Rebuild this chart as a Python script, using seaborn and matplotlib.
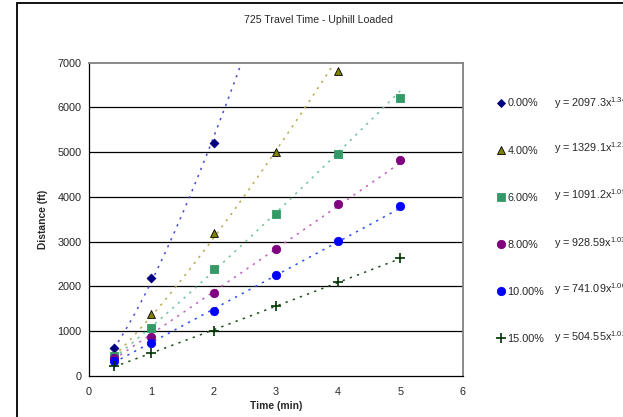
import numpy as np
import pandas as pd
import matplotlib
matplotlib.use("Agg")
import matplotlib.pyplot as plt
from matplotlib.lines import Line2D
from matplotlib.patches import Rectangle
import seaborn as sns

# Measured travel distances for each grade
series_names = ["0.00%", "4.00%", "6.00%", "8.00%", "10.00%", "15.00%"]
time_0 = [0.4, 1, 2]
dist_0 = [620, 2190, 5210]
time_4 = [0.4, 1, 2, 3, 4]
dist_4 = [460, 1390, 3200, 5010, 6820]
time_6 = [0.4, 1, 2, 3, 4, 5]
dist_6 = [430, 1075, 2395, 3625, 4965, 6220]
time_8 = [0.4, 1, 2, 3, 4, 5]
dist_8 = [395, 870, 1855, 2840, 3850, 4830]
time_10 = [0.4, 1, 2, 3, 4, 5]
dist_10 = [320, 740, 1455, 2260, 3020, 3800]
time_15 = [0.4, 1, 2, 3, 4, 5]
dist_15 = [210, 510, 1005, 1565, 2100, 2630]

# Power trendline coefficients  y = a * x^b
fit_a = [2097.3, 1329.1, 1091.2, 928.59, 741.09, 504.55]
fit_b = [1.3452, 1.2106, 1.0963, 1.0152, 1.0071, 1.0231]
fit_a_txt = ["2097.3", "1329.1", "1091.2", "928.59", "741.09", "504.55"]
fit_b_txt = ["1.3452", "1.2106", "1.0963", "1.0152", "1.0071", "1.0231"]
trend_end = [3, 4, 5, 5, 5, 5]

x_ticks = [0, 1, 2, 3, 4, 5, 6]
y_ticks = [0, 1000, 2000, 3000, 4000, 5000, 6000, 7000]

times = [time_0, time_4, time_6, time_8, time_10, time_15]
dists = [dist_0, dist_4, dist_6, dist_8, dist_10, dist_15]

marker_colors = ["#000080", "#808000", "#339966", "#800080", "#0000FF", "#003300"]
marker_edges = ["#000080", "#000000", "#339966", "#800080", "#0000FF", "#003300"]
markers = ["D", "^", "s", "o", "o", "+"]
marker_sizes = [20, 32, 26, 36, 36, 50]
trend_colors = ["#4a4ad0", "#b5ab4a", "#6fc397", "#c060c0", "#2a4dff", "#1f4a1f"]

sns.set_style("white")
plt.rcParams["font.family"] = ["Liberation Sans", "DejaVu Sans"]
plt.rcParams["mathtext.fontset"] = "custom"
plt.rcParams["mathtext.rm"] = "Liberation Sans"
plt.rcParams["mathtext.it"] = "Liberation Sans"

fig = plt.figure(figsize=(6.23, 4.17), dpi=100)
ax = fig.add_axes([89 / 623, 1 - 375.7 / 417, (462.5 - 89) / 623, (375.7 - 62.7) / 417])

# Chart-area frame
fig.patches.append(Rectangle((16.5 / 623, -0.2), 2, 0.2 + 1 - 3.2 / 417,
                             transform=fig.transFigure, fill=False,
                             lw=1.3, ec="black", zorder=0))

frames = []
for i, name in enumerate(series_names):
    frames.append(pd.DataFrame({"time": times[i], "dist": dists[i], "grade": name}))
data = pd.concat(frames, ignore_index=True)

# Dotted power trendlines
for i, name in enumerate(series_names):
    xs = np.linspace(0.4, trend_end[i], 200)
    tl = pd.DataFrame({"time": xs, "dist": fit_a[i] * xs ** fit_b[i]})
    sns.lineplot(data=tl, x="time", y="dist", ax=ax, color=trend_colors[i],
                 lw=1.1, linestyle=(0, (1.5, 3.5)), zorder=2, legend=False)

# Data markers
handles = []
for i, name in enumerate(series_names):
    sub = data[data["grade"] == name]
    lw = 1.2 if markers[i] == "+" else 0.6
    sns.scatterplot(data=sub, x="time", y="dist", ax=ax, marker=markers[i],
                    s=marker_sizes[i], color=marker_colors[i],
                    edgecolor=marker_edges[i], linewidth=lw, zorder=3, legend=False)
    handles.append(Line2D([], [], marker=markers[i], linestyle="none",
                          markerfacecolor=marker_colors[i],
                          markeredgecolor=marker_edges[i],
                          markersize=np.sqrt(marker_sizes[i]),
                          markeredgewidth=lw))

ax.set_xlim(0, 6)
ax.set_ylim(0, 7000)
ax.set_xticks(x_ticks)
ax.set_yticks(y_ticks)
ax.tick_params(axis="both", labelsize=7.8, direction="inout", length=5,
               width=0.8, color="black", pad=3)
ax.tick_params(axis="x", direction="out", length=4, pad=4)
for yv in y_ticks[1:-1]:
    ax.axhline(yv, color="black", lw=0.9, zorder=1)

for side in ["left", "bottom"]:
    ax.spines[side].set_color("black")
    ax.spines[side].set_linewidth(0.9)
for side in ["top", "right"]:
    ax.spines[side].set_visible(True)
    ax.spines[side].set_color("#808080")
    ax.spines[side].set_linewidth(1.3)

ax.set_xlabel("Time (min)", fontsize=7.4, fontweight="bold", labelpad=3)
ax.set_ylabel("Distance (ft)", fontsize=7.4, fontweight="bold", labelpad=7)
fig.text(318 / 623, 1 - 20 / 417, "725 Travel Time - Uphill Loaded",
         fontsize=7.6, ha="center", va="center")

leg = ax.legend(handles, series_names, loc="upper left",
                bbox_to_anchor=(497 / 623, 1 - 98.5 / 417),
                bbox_transform=fig.transFigure, frameon=False, fontsize=7.8,
                labelspacing=3.42, handlelength=0.8, handletextpad=0.15,
                borderpad=0, borderaxespad=0)

row_y = [102.7, 148.5, 195.5, 243.0, 289.5, 337.0]
for i in range(len(series_names)):
    fig.text(554 / 623, 1 - row_y[i] / 417,
             "y = " + fit_a_txt[i] + "x$^{" + fit_b_txt[i] + "}$",
             fontsize=7.8, ha="left", va="center")

fig.savefig("out.png", dpi=100)
